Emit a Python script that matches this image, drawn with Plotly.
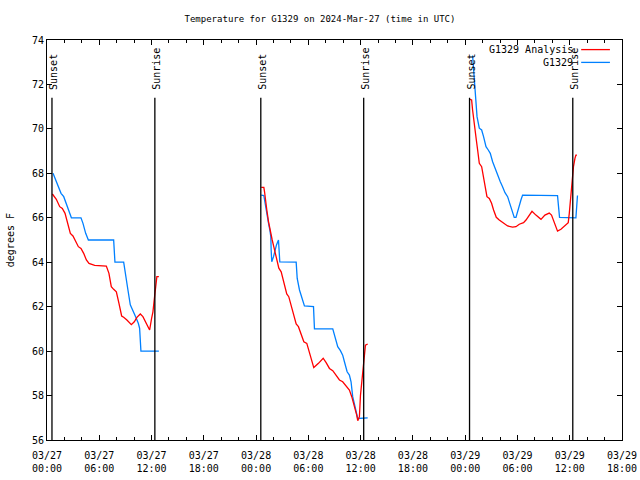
import pandas as pd
import plotly.graph_objects as go

BASE = pd.Timestamp("2024-03-27 00:00")

# hours since 2024-03-27 00:00 UTC, temperature (F)
day1_an_h = [0.62, 1.07, 1.46, 1.76, 2.07, 2.37, 2.68, 2.98, 3.29, 3.6, 3.9, 4.21, 4.52, 4.82, 5.47, 6.81, 7.11, 7.38, 7.65, 7.96, 8.26, 8.57, 8.8, 9.17, 9.68, 10.02, 10.32, 10.71, 11.01, 11.4, 11.78, 12.0, 12.16, 12.35, 12.47, 12.61, 12.84]
day1_an_t = [67.07, 66.83, 66.5, 66.42, 66.2, 65.75, 65.3, 65.18, 64.92, 64.7, 64.62, 64.4, 64.1, 63.95, 63.86, 63.83, 63.5, 62.9, 62.78, 62.67, 62.15, 61.58, 61.52, 61.4, 61.19, 61.32, 61.52, 61.67, 61.55, 61.25, 60.95, 61.46, 61.77, 62.45, 62.9, 63.35, 63.35]
day1_ob_h = [0.69, 1.0, 1.3, 1.61, 1.92, 2.22, 2.53, 2.8, 3.9, 4.13, 4.44, 4.75, 7.65, 7.76, 7.8, 8.8, 9.03, 9.29, 9.56, 9.86, 10.17, 10.48, 10.63, 10.78, 12.84]
day1_ob_t = [68.0, 67.7, 67.33, 67.1, 66.95, 66.65, 66.27, 66.0, 66.0, 65.75, 65.3, 65.0, 65.0, 64.52, 64.0, 64.0, 63.5, 62.75, 62.08, 61.85, 61.55, 61.25, 61.03, 60.0, 60.0]

day2_an_h = [24.59, 24.89, 24.97, 25.08, 25.23, 25.43, 25.66, 25.85, 26.03, 26.23, 26.42, 26.61, 26.88, 27.06, 27.26, 27.52, 27.75, 28.03, 28.33, 28.6, 28.86, 29.17, 29.48, 29.82, 30.13, 30.39, 30.62, 31.16, 31.7, 32.04, 32.42, 32.8, 33.19, 33.57, 33.94, 34.34, 34.71, 34.98, 35.29, 35.55, 35.67, 35.86, 35.98, 36.17, 36.28, 36.43, 36.55, 36.81]
day2_an_t = [67.37, 67.37, 67.17, 66.72, 66.35, 65.82, 65.3, 65.0, 64.7, 64.4, 64.1, 63.73, 63.57, 63.27, 62.9, 62.57, 62.45, 62.0, 61.62, 61.22, 61.1, 60.8, 60.42, 60.35, 59.9, 59.53, 59.26, 59.45, 59.68, 59.48, 59.22, 59.12, 58.93, 58.7, 58.62, 58.4, 58.25, 57.95, 57.53, 57.12, 56.87, 57.05, 58.0, 58.7, 59.07, 59.6, 60.27, 60.32]
day2_ob_h = [24.59, 24.89, 25.04, 25.23, 25.43, 25.58, 25.69, 25.73, 25.8, 26.0, 26.19, 26.34, 26.57, 26.65, 26.72, 28.6, 28.72, 28.98, 29.24, 29.55, 30.59, 30.7, 32.8, 33.07, 33.37, 33.68, 33.94, 34.14, 34.45, 34.71, 34.9, 35.09, 35.37, 35.55, 35.67, 36.81]
day2_ob_t = [67.02, 67.0, 66.65, 66.12, 65.75, 65.45, 65.15, 64.55, 64.02, 64.25, 64.55, 64.78, 65.0, 64.55, 64.02, 64.0, 63.27, 62.75, 62.45, 62.03, 62.0, 61.0, 61.0, 60.57, 60.2, 60.02, 59.82, 59.52, 59.07, 58.92, 58.62, 57.95, 57.5, 57.12, 56.97, 57.0]

day3_an_h = [48.55, 48.74, 48.85, 48.97, 49.13, 49.28, 49.43, 49.62, 49.89, 50.12, 50.28, 50.5, 50.77, 51.03, 51.26, 51.57, 51.91, 52.3, 52.87, 53.44, 53.83, 54.21, 54.7, 54.98, 55.36, 55.67, 56.12, 56.7, 57.15, 57.65, 57.91, 58.22, 58.6, 58.99, 59.45, 59.83, 59.95, 60.06, 60.18, 60.32, 60.43, 60.6, 60.71, 60.83]
day3_an_t = [71.33, 71.3, 70.85, 70.4, 69.95, 69.5, 69.05, 68.45, 68.3, 67.85, 67.55, 66.95, 66.87, 66.65, 66.35, 66.02, 65.9, 65.78, 65.63, 65.58, 65.6, 65.71, 65.78, 65.9, 66.12, 66.29, 66.12, 65.93, 66.12, 66.21, 66.12, 65.75, 65.4, 65.48, 65.63, 65.78, 66.2, 66.72, 67.25, 67.85, 68.3, 68.67, 68.82, 68.82]
day3_ob_h = [48.85, 49.13, 49.24, 49.36, 49.62, 49.89, 50.11, 50.39, 50.65, 50.88, 51.15, 51.42, 51.8, 52.03, 52.29, 52.57, 52.87, 53.18, 53.44, 53.63, 53.83, 54.09, 54.4, 54.59, 58.6, 58.68, 58.83, 60.71, 60.78, 60.89]
day3_ob_t = [73.3, 71.75, 71.3, 70.55, 70.03, 69.95, 69.65, 69.2, 69.05, 68.9, 68.52, 68.22, 67.85, 67.62, 67.4, 67.13, 66.95, 66.57, 66.27, 66.02, 66.02, 66.42, 66.8, 67.02, 67.0, 66.65, 66.02, 66.0, 66.57, 67.0]

sunset_h = [0.57, 24.54, 48.5]
sunrise_h = [12.38, 36.35, 60.35]
sun_line_top = 71.4

Y_MIN, Y_MAX = 56, 74
X_START, X_END = "2024-03-27 00:00", "2024-03-29 18:00"

RED = "#ff0000"
BLUE = "#0080ff"
FONT = "DejaVu Sans Mono"


def to_time(hours):
    return BASE + pd.to_timedelta(hours, unit="h")


fig = go.Figure()

for h, t in [(day1_ob_h, day1_ob_t), (day2_ob_h, day2_ob_t), (day3_ob_h, day3_ob_t)]:
    fig.add_trace(go.Scatter(x=to_time(h), y=t, mode="lines", name="G1329",
                             line=dict(color=BLUE, width=1.3), showlegend=False))
for h, t in [(day1_an_h, day1_an_t), (day2_an_h, day2_an_t), (day3_an_h, day3_an_t)]:
    fig.add_trace(go.Scatter(x=to_time(h), y=t, mode="lines", name="G1329 Analysis",
                             line=dict(color=RED, width=1.3), showlegend=False))

for label, hrs in [("Sunset", sunset_h), ("Sunrise", sunrise_h)]:
    for h in hrs:
        ts = to_time(h)
        fig.add_shape(type="line", xref="x", yref="y", x0=ts, x1=ts,
                      y0=Y_MIN, y1=sun_line_top, line=dict(color="black", width=1.3))
        fig.add_annotation(x=ts, xref="x", y=0.87, yref="paper", text=label,
                           textangle=-90, showarrow=False, xanchor="center",
                           yanchor="bottom", xshift=1,
                           font=dict(family=FONT, size=10, color="black"))

# legend (gnuplot style: text then line sample)
legend_items = [("G1329 Analysis", RED, 0.976), ("G1329", BLUE, 0.944)]
for text, color, ly in legend_items:
    fig.add_annotation(x=0.918, xref="paper", y=ly, yref="paper", text=text,
                       showarrow=False, xanchor="right", yanchor="middle",
                       font=dict(family=FONT, size=10, color="black"))
    fig.add_shape(type="line", xref="paper", yref="paper", x0=0.929, x1=0.979,
                  y0=ly, y1=ly, line=dict(color=color, width=1.3))

fig.add_annotation(x=-0.064, xref="paper", y=0.5, yref="paper", text="degrees F",
                   textangle=-90, showarrow=False, xanchor="center", yanchor="middle",
                   font=dict(family=FONT, size=10, color="black"))

fig.update_layout(
    width=640, height=480,
    margin=dict(l=47, r=18, t=40, b=40, autoexpand=False),
    paper_bgcolor="white", plot_bgcolor="white",
    title=dict(text="Temperature for G1329 on 2024-Mar-27 (time in UTC)",
               x=0.5, xanchor="center", xref="container", y=1 - 19 / 480, yanchor="middle",
               yref="container", automargin=False,
               font=dict(family=FONT, size=9, color="black")),
    font=dict(family=FONT, size=10, color="black"),
    showlegend=False,
)

fig.update_xaxes(
    type="date", range=[X_START, X_END], automargin=False,
    tick0="2024-03-27 00:00", dtick=6 * 3600 * 1000,
    tickformat="%m/%d<br>%H:%M",
    ticks="inside", ticklen=5, tickcolor="black", ticklabelstandoff=6,
    showline=True, linecolor="black", linewidth=1, mirror="allticks",
    showgrid=False, zeroline=False,
    minor=dict(dtick=2 * 3600 * 1000, ticks="inside", ticklen=3, tickcolor="black", showgrid=False),
    tickfont=dict(family=FONT, size=10, color="black"),
)
fig.update_yaxes(
    range=[Y_MIN, Y_MAX], dtick=2, automargin=False,
    ticks="inside", ticklen=5, tickcolor="black",
    showline=True, linecolor="black", linewidth=1, mirror="allticks",
    showgrid=False, zeroline=False,
    tickfont=dict(family=FONT, size=10, color="black"),
)

fig.write_html(
    "out.html",
    config={"displayModeBar": False},
    post_script="document.body.style.margin='0';document.body.style.overflow='hidden';",
)
